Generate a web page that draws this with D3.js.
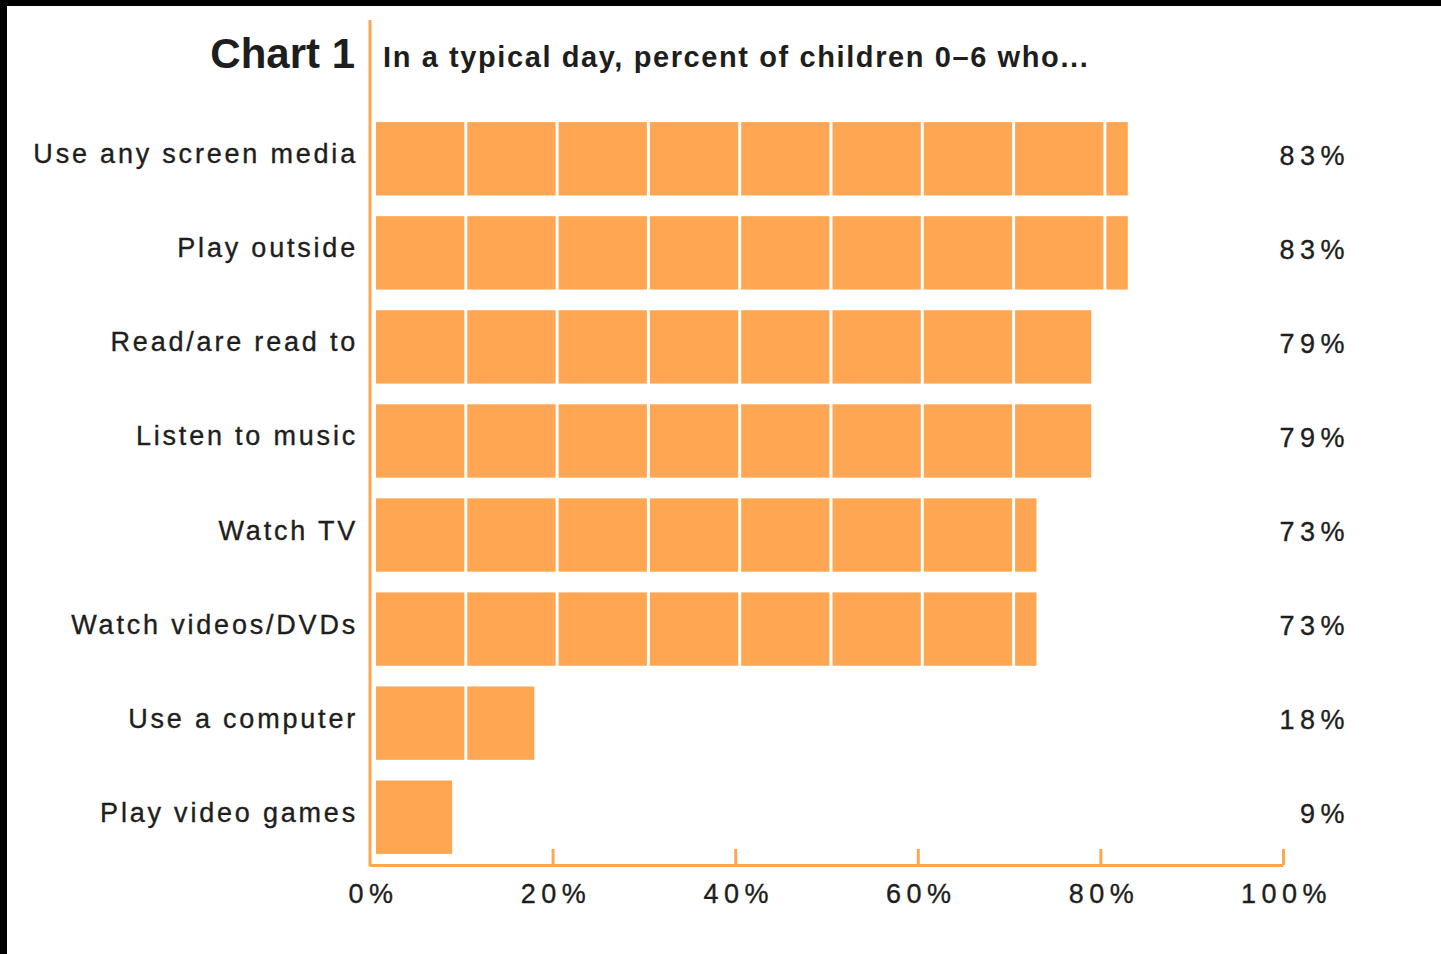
<!DOCTYPE html>
<html>
<head>
<meta charset="utf-8">
<script src="https://cdn.jsdelivr.net/npm/d3@7"></script>
<style>
  html, body { margin: 0; padding: 0; background: #fff; }
  svg { display: block; }
  text { font-family: "Liberation Sans", Arial, Helvetica, sans-serif; fill: #1e1e1e; }
</style>
</head>
<body>
<svg id="chart" width="1441" height="954"></svg>
<script>
const categories = ["Use any screen media", "Play outside", "Read/are read to", "Listen to music",
                    "Watch TV", "Watch videos/DVDs", "Use a computer", "Play video games"];
const values = [83, 83, 79, 79, 73, 73, 18, 9];
const tickValues = [0, 20, 40, 60, 80, 100];
const titleText = "Chart 1";
const subtitleText = "In a typical day, percent of children 0\u20136 who...";

const orange = "#FFA653";
const W = 1441, H = 954;
const svg = d3.select("#chart");

// background and black frame edges
svg.append("rect").attr("x", 0).attr("y", 0).attr("width", W).attr("height", H).attr("fill", "#fff");
svg.append("rect").attr("x", 0).attr("y", 0).attr("width", W).attr("height", 6).attr("fill", "#000");
svg.append("rect").attr("x", 0).attr("y", 0).attr("width", 7).attr("height", H).attr("fill", "#000");

const x = d3.scaleLinear().domain([0, 100]).range([370, 1283]);
const y = d3.scaleBand().domain(categories).range([108, 868]).paddingInner(0.22).paddingOuter(0.15);

// bars, drawn as 10% blocks separated by thin white gaps
const rows = svg.append("g").selectAll("g").data(categories).join("g");
rows.each(function(c, i) {
  const v = values[i];
  const segs = [];
  for (let k = 0; k * 10 < v; k++) {
    const s = x(k * 10) + 6;
    const e = Math.min(x(k * 10 + 10) + 3, x(v));
    if (e > s) segs.push([s, e]);
  }
  d3.select(this).selectAll("rect").data(segs).join("rect")
    .attr("x", d => d[0])
    .attr("width", d => d[1] - d[0])
    .attr("y", y(c))
    .attr("height", y.bandwidth())
    .attr("fill", orange);
});

// category labels
svg.append("g").selectAll("text").data(categories).join("text")
  .attr("x", 358)
  .attr("y", d => y(d) + y.bandwidth() / 2 + 4.5)
  .attr("text-anchor", "end")
  .attr("font-size", 27)
  .attr("letter-spacing", "2.8px")
  .attr("stroke", "#1e1e1e").attr("stroke-width", 0.35)
  .text(d => d);

// value labels
svg.append("g").selectAll("text").data(values).join("text")
  .attr("x", 1350)
  .attr("y", (d, i) => y(categories[i]) + y.bandwidth() / 2 + 6)
  .attr("text-anchor", "end")
  .attr("font-size", 27)
  .attr("letter-spacing", "5.5px")
  .attr("stroke", "#1e1e1e").attr("stroke-width", 0.35)
  .text(d => d + "%");

// vertical axis line
svg.append("line")
  .attr("x1", x(0)).attr("x2", x(0))
  .attr("y1", 20).attr("y2", 866.5)
  .attr("stroke", orange).attr("stroke-width", 3);

// bottom axis
const axis = d3.axisBottom(x)
  .tickValues(tickValues)
  .tickFormat(d => d + "%")
  .tickSize(-16)
  .tickSizeOuter(0);
const gx = svg.append("g").attr("transform", "translate(0,865)").call(axis);
gx.select(".domain").attr("stroke", orange).attr("stroke-width", 3);
gx.selectAll(".tick line").attr("stroke", orange).attr("stroke-width", 3)
  .filter(d => d === 0).remove();
gx.selectAll(".tick text")
  .attr("y", 38).attr("dy", 0)
  .attr("font-size", 27)
  .attr("letter-spacing", "5.5px")
  .attr("dx", 3)
  .attr("font-family", "Liberation Sans, Arial, sans-serif")
  .attr("fill", "#1e1e1e")
  .attr("stroke", "#1e1e1e").attr("stroke-width", 0.35);

// title & subtitle
svg.append("text")
  .attr("x", 355).attr("y", 68)
  .attr("text-anchor", "end")
  .attr("font-size", 42)
  .attr("font-weight", "bold")
  .text(titleText);

svg.append("text")
  .attr("x", 383).attr("y", 67)
  .attr("font-size", 29)
  .attr("font-weight", "bold")
  .attr("letter-spacing", "1.6px")
  .text(subtitleText);
</script>
</body>
</html>
